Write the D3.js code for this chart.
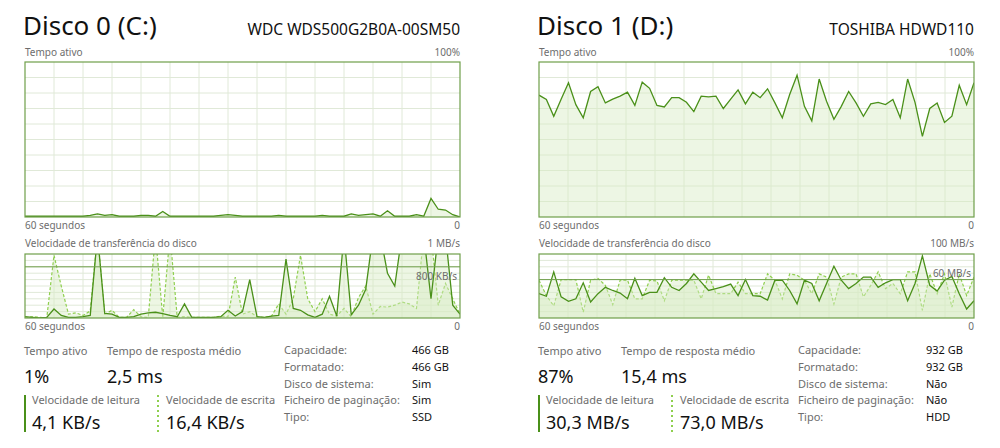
<!DOCTYPE html>
<html><head><meta charset="utf-8">
<script src="https://cdn.jsdelivr.net/npm/d3@7"></script>
<style>body{margin:0;background:#fff;}svg{display:block;font-family:"Noto Sans","Open Sans",sans-serif;}</style>
</head><body><svg id="c" width="1000" height="448"></svg>
<script>
// ---- data ----
const disk0Active = [0.5,0.5,0.5,0.5,0.5,0.5,0.5,0.5,0.5,1,2,1,1.5,0.5,0.5,0.5,1,1,0.5,3.5,0.5,0.5,0.5,0.5,0.5,0.5,0.5,1,1.5,1,0.5,0.5,0.5,0.5,0.5,1,0.5,0.5,0.5,0.5,0.5,1,0.5,0.5,0.5,2,1,1.5,2,0.5,4,0.5,0.5,0.5,1.5,0.5,12,5,4.5,1.5,0];
const disk1Active = [78.6,75.8,65,76,86.6,72.5,64,81,84,73.6,76,78,80.5,72,87,83,72,71,77,77,74,68,78,77.5,78,70,76,82,73,80.5,77,82.7,73.6,64,79,91.5,71.4,62,89,74.7,63,71.4,81,73.6,65,73,74,72.5,75.8,64,89,74,52,70,73.6,61,65,85,72.5,86.6];
const disk0Read = [20,10,0,10,140,40,10,10,20,40,1300,70,60,10,10,20,60,80,90,70,40,20,220,10,10,10,10,20,120,30,100,600,20,10,30,40,920,150,120,50,10,60,340,30,1300,50,200,450,1300,1300,700,500,1300,1300,1300,1300,300,1300,1300,200,60];
const disk0Write = [0,20,10,0,980,500,60,80,40,110,1300,60,120,10,10,130,20,10,1300,10,1300,10,20,10,10,10,10,30,20,640,60,100,20,10,30,220,60,300,980,300,100,300,60,30,150,20,320,500,60,180,170,200,250,220,150,1300,1300,200,540,300,60];
const disk1Read = [38,34,72,33,26,30,55,25,38,48,43,39,30,62,35,40,40,63,48,43,54,69,56,43,46,49,53,35,60,35,34,28,59,59,43,22,59,54,27,54,81,59,46,54,64,64,48,55,60,60,27,54,97,51,42,59,65,38,14,27];
const disk1Write = [59,35,19,60,60,60,9,59,62,51,21,59,59,30,30,59,58,27,59,59,59,59,30,67,38,38,38,56,38,38,38,69,59,30,69,67,59,38,69,64,22,64,69,69,33,51,72,46,54,38,72,72,12,69,38,69,17,69,35,64];
const titles = ["Disco 0 (C:)","Disco 1 (D:)"];
const models = ["WDC  WDS500G2B0A-00SM50","TOSHIBA HDWD110"];
const transferMax = ["1 MB/s","100 MB/s"];
const transferMid = ["800 KB/s","60 MB/s"];
const transferMaxVal = [1000,100];
const transferMidVal = [800,60];
const activeVal = ["1%","87%"];
const respVal = ["2,5 ms","15,4 ms"];
const readVal = ["4,1 KB/s","30,3 MB/s"];
const writeVal = ["16,4 KB/s","73,0 MB/s"];
const propLabels = ["Capacidade:","Formatado:","Disco de sistema:","Ficheiro de paginação:","Tipo:"];
const propVals = [["466 GB","466 GB","Sim","Sim","SSD"],["932 GB","932 GB","Não","Não","HDD"]];

const svg = d3.select("#c");
const LINE="#4a9019", BORDER="#6f9f4a", GRID="#e0e9d8", FILL="rgba(214,236,196,0.45)", TXT="#6d6d6d";

function panel(k, ox, active, rd, wr){
  const g = svg.append("g").attr("transform",`translate(${ox},0)`);
  const W=435;
  g.append("text").attr("x",-2).attr("y",35).attr("font-size",26).attr("fill","#111").text(titles[k]);
  g.append("text").attr("x",W).attr("y",35).attr("text-anchor","end").attr("font-size",15.5).attr("fill","#111").text(models[k]);
  chart(g, 62, 155, [active], 100, 10, 15, null);
  g.append("text").attr("x",0).attr("y",56).attr("font-size",10).attr("fill",TXT).text("Tempo ativo");
  g.append("text").attr("x",W).attr("y",56).attr("text-anchor","end").attr("font-size",10).attr("fill",TXT).text("100%");
  g.append("text").attr("x",0).attr("y",229).attr("font-size",10).attr("fill",TXT).text("60 segundos");
  g.append("text").attr("x",W).attr("y",229).attr("text-anchor","end").attr("font-size",10).attr("fill",TXT).text("0");
  g.append("text").attr("x",0).attr("y",247).attr("font-size",10).attr("fill",TXT).text("Velocidade de transferência do disco");
  g.append("text").attr("x",W).attr("y",247).attr("text-anchor","end").attr("font-size",10).attr("fill",TXT).text(transferMax[k]);
  chart(g, 254, 64, [wr, rd], transferMaxVal[k], 10, 15, transferMidVal[k]);
  g.append("text").attr("x",0).attr("y",330).attr("font-size",10).attr("fill",TXT).text("60 segundos");
  g.append("text").attr("x",W).attr("y",330).attr("text-anchor","end").attr("font-size",10).attr("fill",TXT).text("0");
  const s = (x,y,sz,t,c)=>g.append("text").attr("x",x).attr("y",y).attr("font-size",sz).attr("fill",c||TXT).text(t);
  s(-1,355,11,"Tempo ativo"); s(82,355,11,"Tempo de resposta médio");
  s(-1,383,18,activeVal[k],"#111"); s(82,383,18,respVal[k],"#111");
  g.append("line").attr("x1",0).attr("x2",0).attr("y1",395).attr("y2",432).attr("stroke",LINE).attr("stroke-width",2);
  g.append("line").attr("x1",133).attr("x2",133).attr("y1",395).attr("y2",432).attr("stroke","#8fcf4f").attr("stroke-width",2).attr("stroke-dasharray","2,3");
  s(7,404,11,"Velocidade de leitura"); s(141,404,11,"Velocidade de escrita");
  s(7,429,18,readVal[k],"#111"); s(141,429,18,writeVal[k],"#111");
  propLabels.forEach((p,i)=>{ s(259,354+i*16.8,11,p); s(387,354+i*16.8,11,propVals[k][i],"#111"); });

  function chart(g, top, h, series, max, rows, cols, mid){
    const y = d3.scaleLinear().domain([0,max]).range([h,0]);
    const cg = g.append("g").attr("transform",`translate(0,${top})`);
    const cid = "clip"+k+"_"+top;
    cg.append("clipPath").attr("id",cid).append("rect").attr("width",W).attr("height",h);
    const gx = d3.range(1,cols).map(i=>i*W/cols), gy = d3.range(1,rows).map(i=>i*h/rows);
    cg.selectAll(".vx").data(gx).join("line").attr("x1",d=>d).attr("x2",d=>d).attr("y1",0).attr("y2",h).attr("stroke",GRID);
    cg.selectAll(".hy").data(gy).join("line").attr("x1",0).attr("x2",W).attr("y1",d=>d).attr("y2",d=>d).attr("stroke",GRID);
    const inner = cg.append("g").attr("clip-path",`url(#${cid})`);
    series.forEach((ser,si)=>{
      const x = d3.scaleLinear().domain([0,ser.length-1]).range([0,W]);
      const area = d3.area().x((d,i)=>x(i)).y0(h).y1(d=>y(d));
      const line = d3.line().x((d,i)=>x(i)).y(d=>y(d));
      const dashed = series.length>1 && si===0;
      inner.append("path").datum(ser).attr("d",area).attr("fill",FILL);
      inner.append("path").datum(ser).attr("d",line).attr("fill","none")
        .attr("stroke",dashed?"#8fcf4f":LINE).attr("stroke-width",dashed?1.2:1.3)
        .attr("stroke-dasharray",dashed?"3,2":null);
    });
    if(mid!==null){
      cg.append("line").attr("x1",0).attr("x2",W).attr("y1",y(mid)).attr("y2",y(mid)).attr("stroke",BORDER).attr("stroke-width",1);
      const dy = k===0 ? 13 : -3;
      cg.append("text").attr("x",W-3).attr("y",y(mid)+dy).attr("text-anchor","end").attr("font-size",10).attr("fill",TXT).text(transferMid[k]);
    }
    cg.append("rect").attr("width",W).attr("height",h).attr("fill","none").attr("stroke",BORDER).attr("stroke-width",1.2);
  }
}
panel(0, 25, disk0Active, disk0Read, disk0Write);
panel(1, 539, disk1Active, disk1Read, disk1Write);
</script></body></html>
